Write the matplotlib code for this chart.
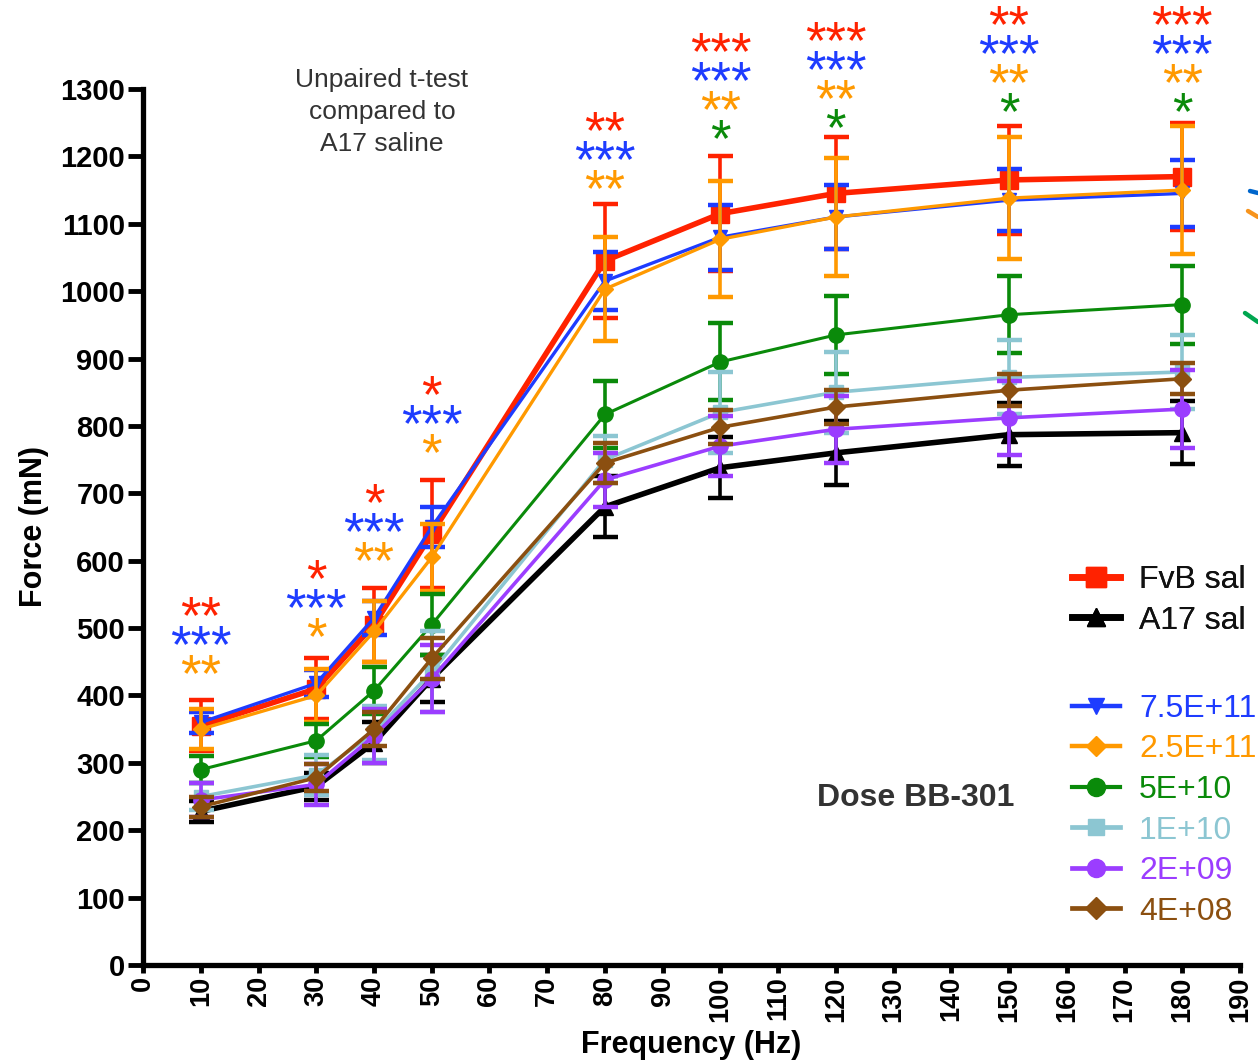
import matplotlib
matplotlib.use("Agg")
import matplotlib.pyplot as plt
from matplotlib.lines import Line2D

plt.rcParams['font.family'] = ['Liberation Sans', 'DejaVu Sans']

# ---------------- data ----------------
freq = [10, 30, 40, 50, 80, 100, 120, 150, 180]

fvb_mean = [355, 410, 505, 640, 1045, 1115, 1145, 1165, 1170]
fvb_sem = [38, 45, 55, 80, 85, 85, 83, 80, 80]
a17_mean = [228, 265, 330, 425, 680, 738, 760, 787, 790]
a17_sem = [15, 20, 30, 35, 45, 45, 48, 47, 47]
d75e11_mean = [360, 418, 515, 650, 1015, 1080, 1110, 1135, 1145]
d75e11_sem = [15, 20, 25, 30, 43, 48, 47, 46, 50]
d25e11_mean = [350, 400, 495, 605, 1003, 1077, 1110, 1138, 1150]
d25e11_sem = [30, 40, 45, 50, 77, 86, 88, 90, 95]
d5e10_mean = [290, 333, 407, 505, 817, 895, 935, 965, 980]
d5e10_sem = [20, 25, 35, 45, 50, 57, 58, 57, 58]
d1e10_mean = [250, 282, 345, 435, 750, 820, 850, 872, 880]
d1e10_sem = [20, 30, 40, 60, 35, 60, 60, 55, 55]
d2e09_mean = [245, 268, 340, 425, 720, 770, 795, 812, 825]
d2e09_sem = [25, 30, 40, 50, 40, 45, 50, 55, 58]
d4e08_mean = [235, 278, 350, 455, 745, 798, 828, 853, 870]
d4e08_sem = [15, 20, 25, 30, 30, 25, 25, 24, 23]

control_labels = ['FvB sal', 'A17 sal']
dose_labels = ['7.5E+11', '2.5E+11', '5E+10', '1E+10', '2E+09', '4E+08']

# significance stars (vs A17 saline), rows top->bottom: red, blue, orange, green
sig_red = ['**', '*', '*', '*', '**', '***', '***', '**', '***']
sig_blue = ['***'] * 9
sig_orange = ['**', '*', '**', '*', '**', '**', '**', '**', '**']
sig_green = ['', '', '', '', '', '*', '*', '*', '*']
sig_base = [450, 505, 618, 778, 1170, 1244, 1260, 1285, 1285]
sig_step = 43

x_ticks = list(range(0, 191, 10))
y_ticks = list(range(0, 1301, 100))

# ---------------- style ----------------
RED = '#FF2200'
BLACK = '#000000'
BLUE = '#1E3CFF'
ORANGE = '#FF9900'
GREEN = '#0A8A0A'
LBLUE = '#8CC6D2'
PURPLE = '#9B3DFF'
BROWN = '#8B4F10'

series = [
    # mean, sem, color, marker, ms, lw, label
    (fvb_mean, fvb_sem, RED, 's', 13, 4.0, control_labels[0]),
    (a17_mean, a17_sem, BLACK, '^', 11, 4.0, control_labels[1]),
    (d75e11_mean, d75e11_sem, BLUE, 'v', 10, 2.4, dose_labels[0]),
    (d25e11_mean, d25e11_sem, ORANGE, 'D', 8, 2.4, dose_labels[1]),
    (d5e10_mean, d5e10_sem, GREEN, 'o', 11, 2.2, dose_labels[2]),
    (d1e10_mean, d1e10_sem, LBLUE, 's', 10, 2.6, dose_labels[3]),
    (d2e09_mean, d2e09_sem, PURPLE, 'o', 11, 2.6, dose_labels[4]),
    (d4e08_mean, d4e08_sem, BROWN, 'D', 9, 2.6, dose_labels[5]),
]

fig = plt.figure(figsize=(12.58, 10.64), dpi=100)
ax = fig.add_axes([0.1137, 0.0930, 0.8720, 0.8234])

handles = []
for i, (m, s, c, mk, ms, lw, lab) in enumerate(series):
    ax.errorbar(freq, m, yerr=s, color=c, marker=mk, markersize=ms,
                linewidth=lw, elinewidth=2.6, capsize=9, capthick=3.2,
                zorder=3 + i, clip_on=False)
    handles.append(Line2D([], [], color=c, marker=mk, markersize=ms + 2,
                          linewidth=lw + 0.8, label=lab))

ax.set_xlim(0, 190)
ax.set_ylim(0, 1300)
ax.set_xticks(x_ticks)
ax.set_yticks(y_ticks)
ax.set_xticklabels([str(v) for v in x_ticks], rotation=90, fontsize=19.5,
                   fontweight='bold')
ax.set_yticklabels([str(v) for v in y_ticks], fontsize=21, fontweight='bold')
for side in ['top', 'right']:
    ax.spines[side].set_visible(False)
for side in ['left', 'bottom']:
    ax.spines[side].set_linewidth(3.8)
ax.tick_params(axis='y', direction='out', length=11, width=3.5, pad=2)
ax.tick_params(axis='x', direction='out', length=6, width=3.5, pad=2)

ax.set_xlabel('Frequency (Hz)', fontsize=22, fontweight='bold', labelpad=6)
ax.set_ylabel('Force (mN)', fontsize=22, fontweight='bold', labelpad=8)

# significance stars
star_fs = 38
rows = [(sig_red, RED), (sig_blue, BLUE), (sig_orange, ORANGE), (sig_green, GREEN)]
for j, f in enumerate(freq):
    present = [(r[j], c) for r, c in rows if r[j]]
    n = len(present)
    for k, (txt, c) in enumerate(present):
        yv = sig_base[j] + (n - 1 - k) * sig_step
        ax.annotate(txt, (f, yv), xytext=(0, -0.56 * star_fs),
                    textcoords='offset points', ha='center', va='baseline',
                    fontsize=star_fs, color=c, annotation_clip=False,
                    zorder=20)

# text notes
fig.text(0.3037, 0.8945, 'Unpaired t-test\ncompared to\nA17 saline',
         ha='center', va='center', fontsize=19, color='#333333',
         linespacing=1.42)
fig.text(0.7275, 0.2500, 'Dose BB-301', ha='center', va='center',
         fontsize=23, fontweight='bold', color='#333333')

# legends
leg_kw = dict(loc='upper left', frameon=False, fontsize=23,
              handlelength=1.5, handletextpad=0.6, labelspacing=0.33,
              borderpad=0, borderaxespad=0)
leg1 = fig.legend(handles=handles[:2], bbox_to_anchor=(0.852, 0.4690),
                  **leg_kw)
for t in leg1.get_texts():
    t.set_color('#111111')
leg2 = fig.legend(handles=handles[2:], bbox_to_anchor=(0.852, 0.3478),
                  **leg_kw)
for t, h in zip(leg2.get_texts(), handles[2:]):
    t.set_color(h.get_color())
fig.add_artist(leg1)

# partial strokes from neighbouring graphic at the right edge
W, H = 1258.0, 1064.0
for (x0, y0, x1, y1, c) in [(1250, 191, 1258, 193, '#0066CC'),
                            (1248, 211, 1258, 217, '#F7941D'),
                            (1245, 313, 1258, 322, '#00A650')]:
    fig.add_artist(Line2D([x0 / W, x1 / W], [1 - y0 / H, 1 - y1 / H],
                          transform=fig.transFigure, color=c, linewidth=3.2,
                          solid_capstyle='round'))

fig.savefig('out.png', dpi=100)
